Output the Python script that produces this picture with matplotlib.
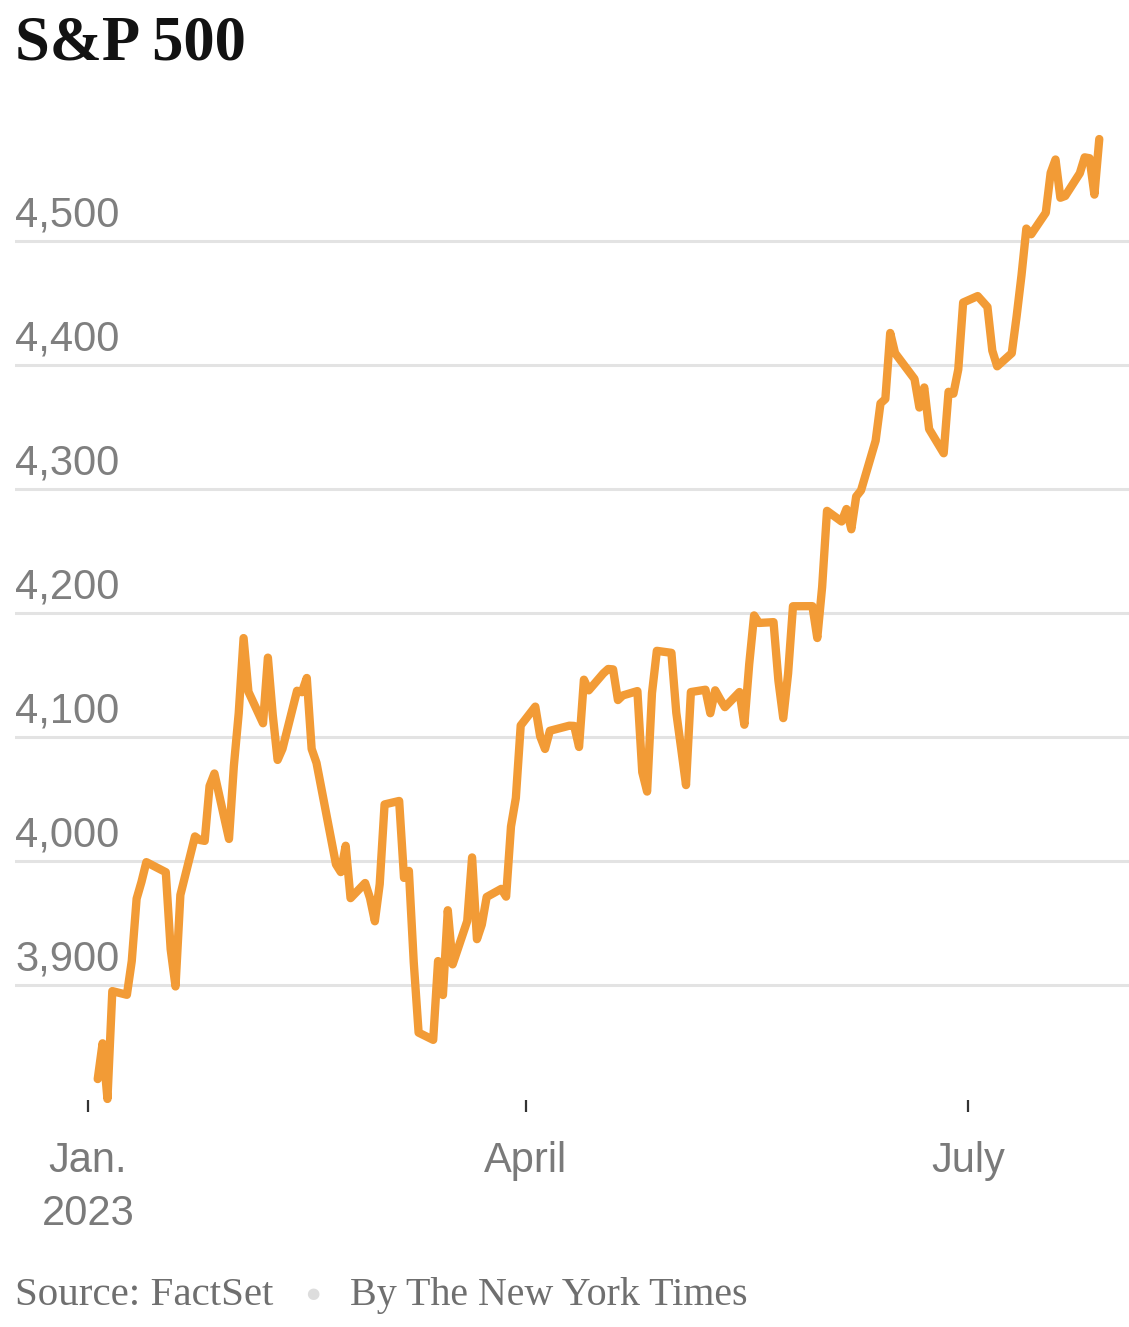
import numpy as np
import pandas as pd
import matplotlib.pyplot as plt
import matplotlib.dates as mdates
from matplotlib.transforms import offset_copy

# =========================
# Data: S&P 500 daily closes, 2023
# =========================

jan_days = [3, 4, 5, 6, 9, 10, 11, 12, 13, 17, 18, 19, 20, 23, 24, 25, 26, 27, 30, 31]
jan_close = [3824.14, 3852.97, 3808.10, 3895.08, 3892.09, 3919.25, 3969.61, 3983.17,
             3999.09, 3990.97, 3928.86, 3898.85, 3972.61, 4019.81, 4016.95, 4016.22,
             4060.43, 4070.56, 4017.77, 4076.60]

feb_days = [1, 2, 3, 6, 7, 8, 9, 10, 13, 14, 15, 16, 17, 21, 22, 23, 24, 27, 28]
feb_close = [4119.21, 4179.76, 4136.48, 4111.08, 4164.00, 4117.86, 4081.50, 4090.46,
             4137.29, 4136.13, 4147.60, 4090.41, 4079.09, 3997.34, 3991.05, 4012.32,
             3970.04, 3982.24, 3970.15]

mar_days = [1, 2, 3, 6, 7, 8, 9, 10, 13, 14, 15, 16, 17, 20, 21, 22, 23, 24, 27, 28,
            29, 30, 31]
mar_close = [3951.39, 3981.35, 4045.64, 4048.42, 3986.37, 3992.01, 3918.32, 3861.59,
             3855.76, 3919.29, 3891.93, 3960.28, 3916.64, 3951.57, 4002.87, 3936.97,
             3948.72, 3970.99, 3977.53, 3971.27, 4027.81, 4050.83, 4109.31]

apr_days = [3, 4, 5, 6, 10, 11, 12, 13, 14, 17, 18, 19, 20, 21, 24, 25, 26, 27, 28]
apr_close = [4124.51, 4100.60, 4090.38, 4105.02, 4109.11, 4108.94, 4091.95, 4146.22,
             4137.64, 4151.32, 4154.87, 4154.52, 4129.79, 4133.52, 4137.04, 4071.63,
             4055.99, 4135.35, 4169.48]

may_days = [1, 2, 3, 4, 5, 8, 9, 10, 11, 12, 15, 16, 17, 18, 19, 22, 23, 24, 25, 26,
            30, 31]
may_close = [4167.87, 4119.58, 4090.75, 4061.22, 4136.25, 4138.12, 4119.17, 4137.64,
             4130.62, 4124.08, 4136.28, 4109.90, 4158.77, 4198.05, 4191.98, 4192.63,
             4145.58, 4115.24, 4151.28, 4205.45, 4205.52, 4179.83]

jun_days = [1, 2, 5, 6, 7, 8, 9, 12, 13, 14, 15, 16, 20, 21, 22, 23, 26, 27, 28, 29, 30]
jun_close = [4221.02, 4282.37, 4273.79, 4283.85, 4267.52, 4293.93, 4298.86, 4338.93,
             4369.01, 4372.59, 4425.84, 4409.59, 4388.71, 4365.69, 4381.89, 4348.33,
             4328.82, 4378.41, 4376.86, 4396.44, 4450.38]

jul_days = [3, 5, 6, 7, 10, 11, 12, 13, 14, 17, 18, 19, 20, 21, 24, 25, 26, 27, 28]
jul_close = [4455.59, 4446.82, 4411.59, 4398.95, 4409.53, 4439.26, 4472.16, 4510.04,
             4505.42, 4522.79, 4554.98, 4565.72, 4534.87, 4536.34, 4554.64, 4567.46,
             4566.75, 4537.41, 4582.23]

months = [(1, jan_days, jan_close), (2, feb_days, feb_close), (3, mar_days, mar_close),
          (4, apr_days, apr_close), (5, may_days, may_close), (6, jun_days, jun_close),
          (7, jul_days, jul_close)]

dates = []
closes = []
for m, days, vals in months:
    for d, v in zip(days, vals):
        dates.append(pd.Timestamp(2023, m, d))
        closes.append(v)

y_ticks = [3900, 4000, 4100, 4200, 4300, 4400, 4500]
x_ticks = [pd.Timestamp(2023, 1, 1), pd.Timestamp(2023, 4, 1), pd.Timestamp(2023, 7, 1)]
x_labels = ["Jan.\n2023", "April", "July"]

# =========================
# Figure
# =========================

W, H = 1129, 1327
fig = plt.figure(figsize=(W / 100, H / 100), dpi=100)

ax_left, ax_right = 15, 1129
ax_top, ax_bottom = 100, 1100
ax = fig.add_axes([ax_left / W, 1 - ax_bottom / H,
                   (ax_right - ax_left) / W, (ax_bottom - ax_top) / H])

# x scale: Jan 1 at px 88, Jul 1 at px 968
px_per_day = (968 - 88) / 181
jan1 = pd.Timestamp(2023, 1, 1)
x0 = jan1 - pd.Timedelta(days=(88 - ax_left) / px_per_day)
x1 = jan1 + pd.Timedelta(days=(ax_right - 88) / px_per_day)
ax.set_xlim(x0, x1)

# y scale: 4500 at px 241, 3900 at px 985
px_per_pt = (985 - 241) / 600
ax.set_ylim(3900 - (ax_bottom - 985) / px_per_pt, 4500 + (241 - ax_top) / px_per_pt)

for s in ax.spines.values():
    s.set_visible(False)

for v in y_ticks:
    ax.axhline(v, color="#e3e3e3", lw=2.2, zorder=1)

ax.plot(dates, closes, color="#f29b36", lw=6, solid_joinstyle="round",
        solid_capstyle="round", zorder=3, clip_on=False)

# y labels sit above the gridlines
lab_tr = offset_copy(ax.get_yaxis_transform(), fig=fig, x=0, y=6, units="dots")
for v in y_ticks:
    ax.text(0, v, f"{v:,}", transform=lab_tr, ha="left", va="bottom",
            fontsize=30, color="#7f7f7f", family="Liberation Sans")
ax.set_yticks([])

ax.set_xticks(x_ticks)
ax.set_xticklabels(x_labels, fontsize=30, color="#7a7a7a",
                   family="Liberation Sans", linespacing=1.42)
ax.tick_params(axis="x", length=8.5, width=1.6, color="#333333", pad=21)

# title and footer
fig.text(15 / W, 1 - 60 / H, "S&P 500", ha="left", va="baseline",
         fontsize=45, fontweight="bold", family="Liberation Serif", color="#121212")

foot_y = 1 - 1305 / H
fig.text(15 / W, foot_y, "Source: FactSet", ha="left", va="baseline",
         fontsize=29.5, family="Liberation Serif", color="#6f6f6f")
fig.text(313 / W, 1 - 1294 / H, "\u25CF", ha="center", va="center",
         fontsize=11, color="#dddddd")
fig.text(350 / W, foot_y, "By The New York Times", ha="left", va="baseline",
         fontsize=28.8, family="Liberation Serif", color="#6f6f6f")

fig.savefig("out.png", dpi=100)
